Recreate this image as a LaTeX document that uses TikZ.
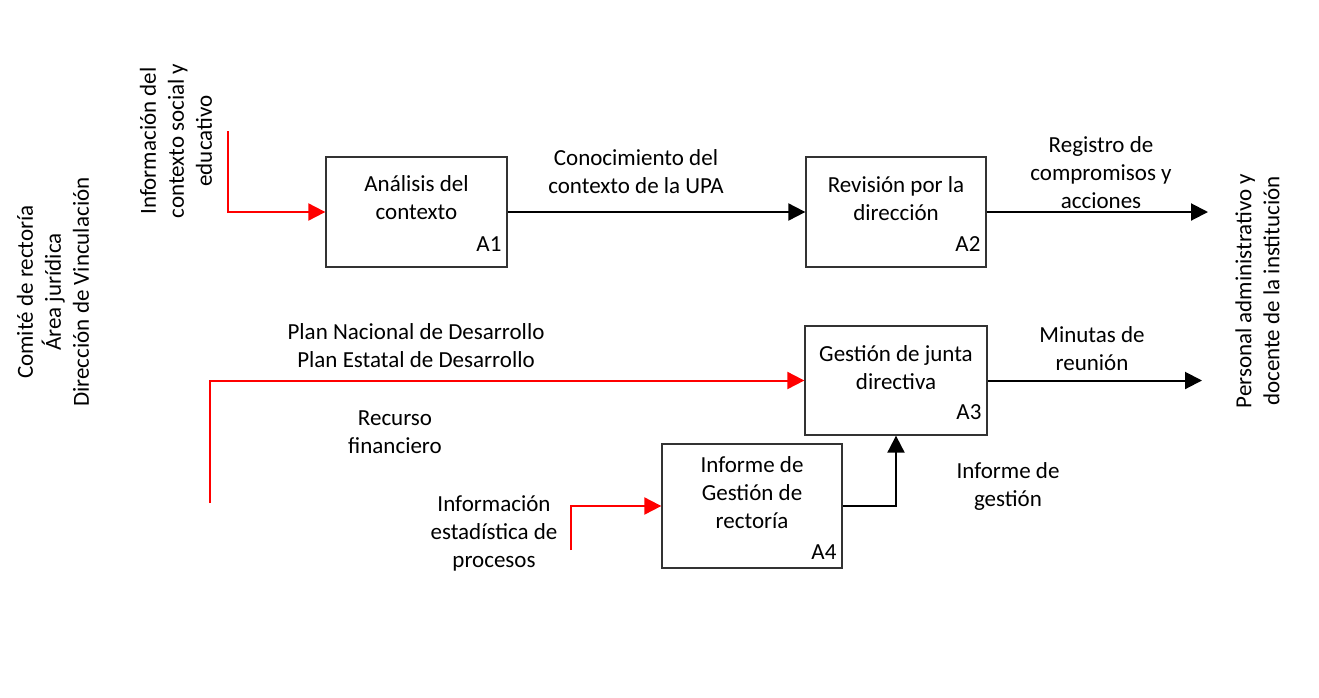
\documentclass[tikz,border=0pt]{standalone}
\usepackage{fontspec}
\setmainfont{Carlito}
\usetikzlibrary{arrows.meta}
\begin{document}
\begin{tikzpicture}[x=1pt,y=-1pt,
  every node/.style={font=\fontsize{23}{28}\selectfont, inner sep=0pt},
  procbox/.style={draw=black!80, line width=1.3pt, fill=white},
  txt/.style={align=center, text=black},
  tag/.style={anchor=south east},
  arr/.style={draw=black, line width=2pt, -{Triangle[length=17pt,width=17pt]}},
  redarr/.style={draw=red, line width=2pt, -{Triangle[length=17pt,width=17pt]}}]
\useasboundingbox[fill=white] (0,0) rectangle (1319,697);

% boxes
\node[procbox, minimum width=181pt, minimum height=110pt] (A1) at (416.5,212) {};
\node[procbox, minimum width=180pt, minimum height=110pt] (A2) at (896,212) {};
\node[procbox, minimum width=182pt, minimum height=109pt] (A3) at (896,380.5) {};
\node[procbox, minimum width=180pt, minimum height=124pt] (A4) at (752,506) {};

% box texts
\node[txt] (t1) at (416.5,198) {Análisis del\\contexto};
\node[txt] (t2) at (896,199) {Revisión por la\\dirección};
\node[txt] (t3) at (896,368) {Gestión de junta\\directiva};
\node[txt] (t4) at (752,493) {Informe de\\Gestión de\\rectoría};
\node[tag] (l1) at ([shift={(-6pt,16pt)}]A1.south east) {A1};
\node[tag] (l2) at ([shift={(-6pt,16pt)}]A2.south east) {A2};
\node[tag] (l3) at ([shift={(-6pt,16pt)}]A3.south east) {A3};
\node[tag] (l4) at ([shift={(-6pt,9pt)}]A4.south east) {A4};

% side texts
\node[txt, rotate=90] (mech) at (53,292) {Comité de rectoría\\Área jurídica\\Dirección de Vinculación};
\node[txt, rotate=90] (info) at (176,141) {Información del\\contexto social y\\educativo};
\node[txt, rotate=90] (pers) at (1257.5,291) {Personal administrativo y\\docente de la institución};

% connector labels
\node[txt] (c1) at (636,172) {Conocimiento del\\contexto de la UPA};
\node[txt] (c2) at (1101,173) {Registro de\\compromisos y\\acciones};
\node[txt] (c3) at (416,346) {Plan Nacional de Desarrollo\\Plan Estatal de Desarrollo};
\node[txt] (c4) at (395,432) {Recurso\\financiero};
\node[txt] (c5) at (1092,349) {Minutas de\\reunión};
\node[txt] (c6) at (1008,486) {Informe de\\gestión};
\node[txt] (c7) at (494,533) {Información\\estadística de\\procesos};

% free ends
\coordinate (r1) at (228,131);
\coordinate (r2) at (210,503);
\coordinate (r3) at (571,550);
\coordinate (o2) at (1208,212);
\coordinate (o3) at (1202,380.5);

% connectors
\draw[redarr] (r1) |- (A1.west);
\draw[redarr] (r2) |- (A3.west);
\draw[redarr] (r3) |- (A4.west);
\draw[arr] (A1.east) -- (A2.west);
\draw[arr] (A2.east) -- (o2);
\draw[arr] (A3.east) -- (o3);
\draw[arr] (A4.east) -| (A3.south);
\end{tikzpicture}
\end{document}
